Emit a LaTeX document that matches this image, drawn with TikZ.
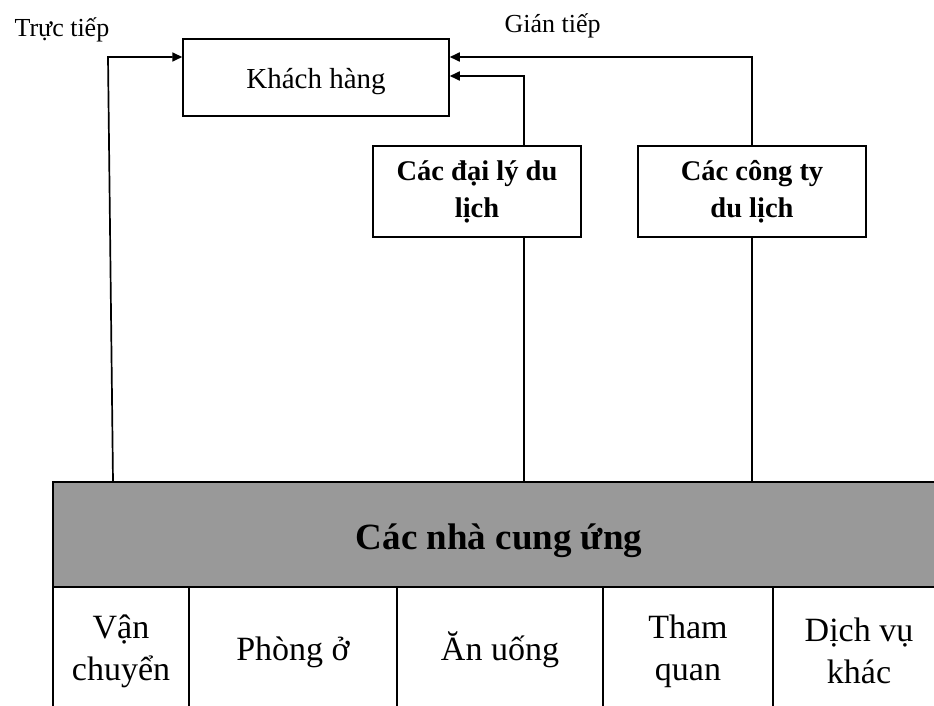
\documentclass[tikz,border=0pt]{standalone}
\usepackage{fontspec}
\setmainfont{Liberation Serif}
\usetikzlibrary{arrows.meta}
\definecolor{suppgray}{HTML}{999999}
\begin{document}
\begin{tikzpicture}
  [
    x = 1pt, y = -1pt,
    box/.style = {draw, line width=1.5pt, inner sep=0pt, align=center},
    agent/.style = {box, minimum height=91pt, font=\bfseries\fontsize{28.5}{37}\selectfont},
    cell/.style = {box, minimum height=128pt, font=\fontsize{34}{42}\selectfont},
    oneline/.style = {text height=25pt, text depth=6pt},
    link/.style = {line width=1.7pt},
    arrow/.style = {link, -{Triangle[length=10pt,width=9pt]}},
  ]
  \useasboundingbox (0,0) rectangle (934,706);

  \node[anchor=base west, font=\fontsize{26}{30}\selectfont] (direct) at (11,37) {Trực tiếp};
  \node[anchor=base west, font=\fontsize{26}{30}\selectfont] (indirect) at (501,33) {Gián tiếp};

  \node[box, minimum width=266pt, minimum height=77pt, text height=23pt, text depth=0pt,
        font=\fontsize{29}{34}\selectfont] (kh) at (316,77.5) {Khách hàng};

  \node[agent, minimum width=208pt] (dl) at (477,191.5) {Các đại lý du\\lịch};
  \node[agent, minimum width=228pt] (ct) at (752,191.5) {Các công ty\\du lịch};

  \node[box, fill=suppgray, minimum width=892pt, minimum height=105pt, text height=30pt, text depth=0pt,
        font=\bfseries\fontsize{37}{44}\selectfont] (ncu) at (499,534.5) {Các nhà cung ứng};

  \node[cell, minimum width=136pt] (vc) at (121,651) {Vận\\chuyển};
  \node[cell, oneline, minimum width=208pt] (po) at (293,651) {Phòng ở};
  \node[cell, oneline, minimum width=206pt] (au) at (500,651) {Ăn uống};
  \node[cell, minimum width=170pt] (tq) at (688,651) {Tham\\quan};
  \node[cell, minimum width=172pt] (dv) at (859,651) {Dịch vụ\\khác};

  \coordinate (src) at (113,482);
  \coordinate (dt top) at (108,57);
  \coordinate (dl top) at (524,76);
  \coordinate (ct top) at (752,57);

  \draw[arrow] (src) -- (dt top) -- (kh.west |- dt top);
  \draw[link] (ncu.north -| dl top) -- (dl.south -| dl top);
  \draw[arrow] (dl.north -| dl top) -- (dl top) -- (kh.east |- dl top);
  \draw[link] (ncu.north -| ct top) -- (ct.south -| ct top);
  \draw[arrow] (ct.north -| ct top) -- (ct top) -- (kh.east |- ct top);
\end{tikzpicture}
\end{document}
